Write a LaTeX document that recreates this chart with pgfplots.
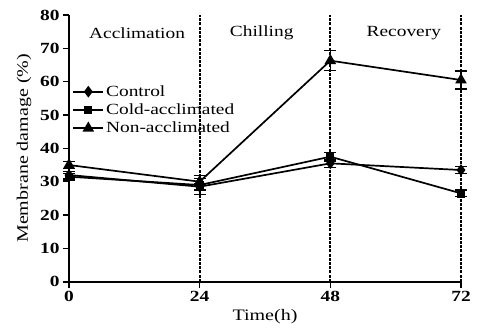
\documentclass[border=0pt]{standalone}
\usepackage{fontspec}
\setmainfont{Liberation Serif}[FakeStretch=1.25]
\usepackage{pgfplots}
\pgfplotsset{compat=1.18}
\usetikzlibrary{calc}
\begin{document}
\begin{tikzpicture}
\begin{axis}[name=ax, scale only axis, width=392pt, height=266.7pt,
  xmin=0, xmax=72, ymin=0, ymax=80,
  axis x line*=bottom, axis y line*=left,
  axis line style={line width=2pt},
  tick style={line width=1.6pt, black}, tick align=outside, major tick length=6pt,
  xtick={0,24,48,72}, ytick={0,10,...,80},
  clip=false,
  /pgf/number format/assume math mode=true,
  ticklabel style={font=\bfseries\fontsize{15.5}{16}\selectfont},
  xlabel={Time(h)}, ylabel={Membrane damage (\%)},
  label style={font=\fontsize{16}{17}\selectfont},
  xlabel style={yshift=-1pt},
  ylabel style={yshift=2pt},
  legend style={at={(axis cs:0.6,59.5)}, anchor=north west, draw=none, fill=none,
    font=\fontsize{15.5}{17}\selectfont, row sep=2pt, inner sep=0pt},
  legend cell align=left,
  legend image code/.code={\draw[mark repeat=2,mark phase=2] plot coordinates {(0pt,0pt)(15pt,0pt)(30pt,0pt)};},
  error bars/error bar style={line width=1.3pt},
  error bars/error mark options={rotate=90, mark size=6pt, line width=1.3pt},
]
\addplot[black, line width=2pt, dash pattern=on 3pt off 1.2pt, forget plot] coordinates {(24,0) (24,80)};
\addplot[black, line width=2pt, dash pattern=on 3pt off 1.2pt, forget plot] coordinates {(48,0) (48,80)};
\addplot[black, line width=2pt, dash pattern=on 3pt off 1.2pt, forget plot] coordinates {(72,0) (72,80)};

\addplot[black, line width=1.7pt, mark=diamond*, mark size=4.5pt,
  error bars/.cd, y dir=both, y explicit] coordinates {
  (0,32) +- (0,1.0)
  (24,28.5) +- (0,1.0)
  (48,35.5) +- (0,1.2)
  (72,33.5) +- (0,1.0)
};
\addlegendentry{Control}
\addplot[black, line width=1.7pt, mark=square*, mark size=3.3pt,
  error bars/.cd, y dir=both, y explicit] coordinates {
  (0,31.5) +- (0,1.0)
  (24,29) +- (0,2.8)
  (48,37.5) +- (0,1.3)
  (72,26.5) +- (0,1.0)
};
\addlegendentry{Cold-acclimated}
\addplot[black, line width=1.7pt, mark=triangle*, mark size=5pt,
  error bars/.cd, y dir=both, y explicit] coordinates {
  (0,35) +- (0,1.0)
  (24,30) +- (0,1.0)
  (48,66.3) +- (0,3.0)
  (72,60.5) +- (0,2.7)
};
\addlegendentry{Non-acclimated}

\node[font=\fontsize{15.5}{17}\selectfont] at (axis cs:12.5,74.6) {Acclimation};
\node[font=\fontsize{15.5}{17}\selectfont] at (axis cs:35.4,74.6) {Chilling};
\node[font=\fontsize{15.5}{17}\selectfont] at (axis cs:61.5,74.6) {Recovery};
\end{axis}
\pgfresetboundingbox
\path ($(ax.south west)+(-69pt,-50.3pt)$) rectangle ($(ax.north east)+(17pt,15pt)$);
\end{tikzpicture}
\end{document}
